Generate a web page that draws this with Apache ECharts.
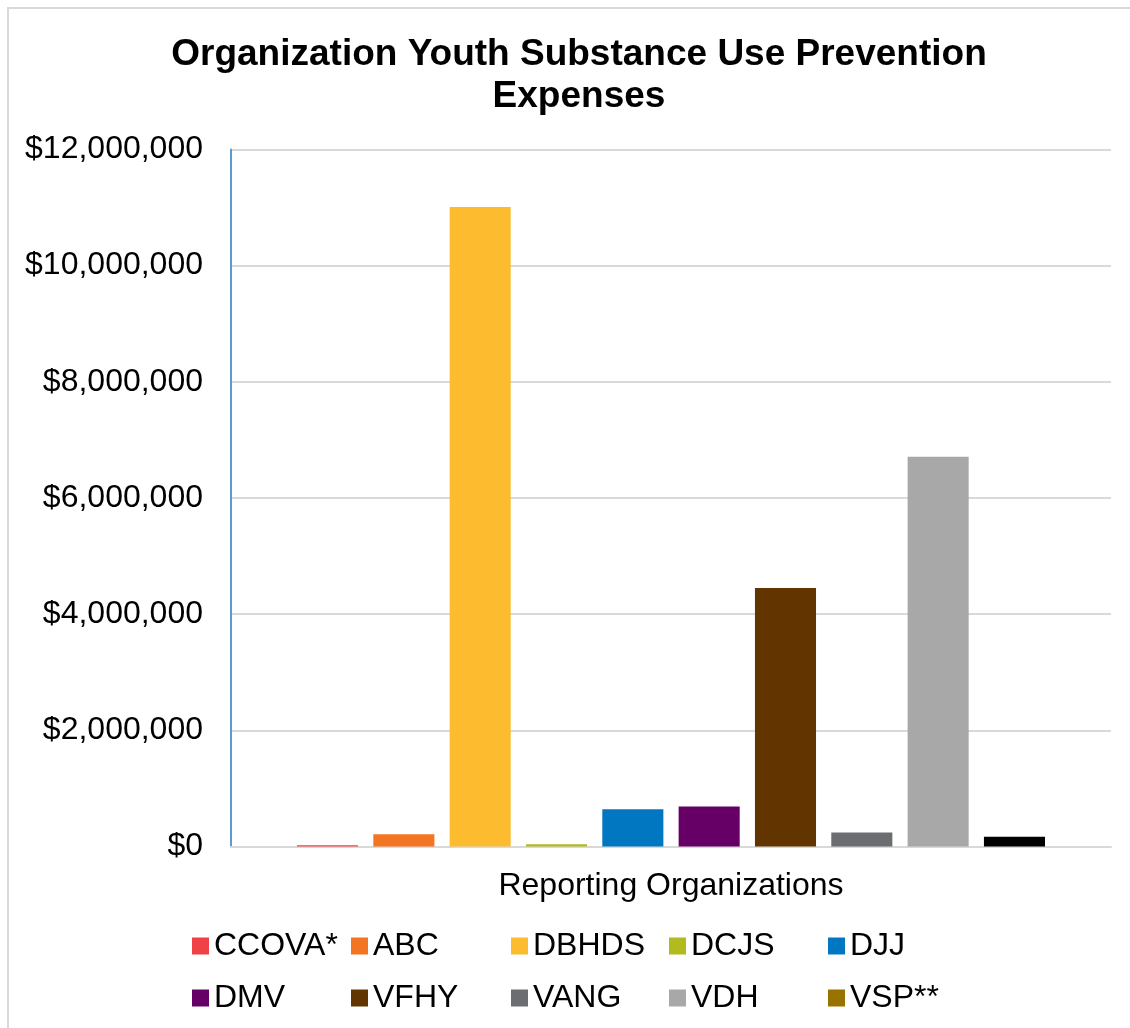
<!DOCTYPE html>
<html>
<head>
<meta charset="utf-8">
<script src="https://cdn.jsdelivr.net/npm/echarts@6/dist/echarts.min.js"></script>
<style>
html,body{margin:0;padding:0;background:#fff;overflow:hidden;}
#chart{width:1130px;height:1028px;}
</style>
</head>
<body>
<div id="chart"></div>
<script>
const categories = [''];
const seriesNames = ['CCOVA*','ABC','DBHDS','DCJS','DJJ','DMV','VFHY','VANG','VDH','VSP**'];
const seriesValues = [20000, 210000, 11010000, 40000, 640000, 690000, 4450000, 240000, 6710000, 170000];
const barColors = ['#ef4146','#f37421','#fdbb30','#b2bb1e','#0077c0','#660066','#613400','#6c6d70','#a8a8a8','#000000'];
const legendColors = ['#ef4146','#f37421','#fdbb30','#b2bb1e','#0077c0','#660066','#613400','#6c6d70','#a8a8a8','#987300'];
const yTicks = [0, 2000000, 4000000, 6000000, 8000000, 10000000, 12000000];

const FONT = '"Liberation Sans", Arial, sans-serif';
const chart = echarts.init(document.getElementById('chart'), null, {renderer:'canvas'});

function fmt(v){ return '$' + v.toLocaleString('en-US'); }

const series = seriesNames.map((n,i)=>({
  name:n, type:'bar', data:[seriesValues[i]],
  itemStyle:{color:barColors[i]},
  barGap:'25%', barCategoryGap:'15%'
}));

// legend laid out in 5 columns x 2 rows (column-major pairs: i and i+5)
const colLefts = [187, 346, 506, 664, 823];
const legends = colLefts.map((lx, c) => ({
  top: 925, left: lx, orient:'vertical',
  itemWidth:17, itemHeight:17, itemGap:20, icon:'rect',
  textStyle:{fontFamily:FONT, fontSize:32, color:'#000'},
  data: [seriesNames[c], seriesNames[c+5]].map(n=>({name:n, itemStyle:{color:legendColors[seriesNames.indexOf(n)]}}))
}));

chart.setOption({
  animation:false,
  backgroundColor:'#fff',
  title:{
    text:'Organization Youth Substance Use Prevention\nExpenses',
    left:574, top:29, textAlign:'center',
    textStyle:{fontFamily:FONT, fontSize:37, fontWeight:'bold', color:'#000', lineHeight:42}
  },
  graphic:[{type:'polyline', shape:{points:[[8,1100],[8,8],[1200,8]]}, style:{fill:'none', stroke:'#d9d9d9', lineWidth:2}, silent:true}],
  legend: legends,
  grid:{left:231, right:19, top:149.5, bottom:181.5, containLabel:false},
  xAxis:{
    type:'category', data:categories,
    name:'Reporting Organizations', nameLocation:'middle', nameGap:24,
    nameTextStyle:{fontFamily:FONT, fontSize:32, color:'#000'},
    axisLine:{lineStyle:{color:'#d9d9d9', width:2}},
    axisTick:{show:false}, axisLabel:{show:false}
  },
  yAxis:{
    type:'value', min:yTicks[0], max:yTicks[yTicks.length-1], interval:yTicks[1]-yTicks[0],
    axisLine:{show:true, lineStyle:{color:'#5b9bd5', width:2}},
    axisTick:{show:false},
    axisLabel:{fontFamily:FONT, fontSize:32, color:'#000', margin:28, padding:[8,0,0,0], formatter:v=>fmt(v)},
    splitLine:{lineStyle:{color:'#d9d9d9', width:2}}
  },
  series: series
});
</script>
</body>
</html>
